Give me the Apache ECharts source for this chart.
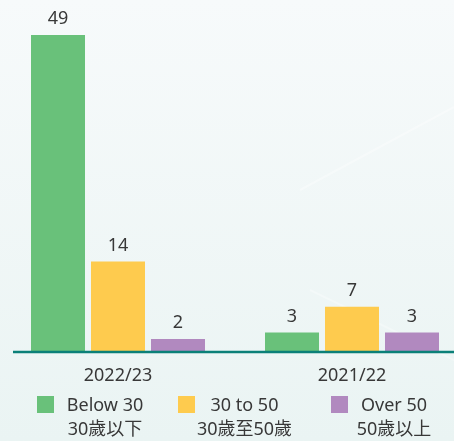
<!DOCTYPE html>
<html>
<head>
<meta charset="utf-8">
<script src="https://cdn.jsdelivr.net/npm/echarts@6/dist/echarts.min.js"></script>
<style>
  html, body { margin: 0; padding: 0; }
  #main { width: 454px; height: 441px; }
</style>
</head>
<body>
<div id="main"></div>
<script>
var categories = ['2022/23', '2021/22'];
var below30 = [49, 3];
var from30to50 = [14, 7];
var over50 = [2, 3];
var namesEn = ['Below 30', '30 to 50', 'Over 50'];
var namesZh = ['30歲以下', '30歲至50歲', '50歲以上'];
var colors = ['#69c17a', '#fecb4e', '#b189bf'];

var font = "'Noto Sans', 'Noto Sans CJK TC', sans-serif";
var textColor = '#383838';

function makeSeries(i, values) {
    return {
        name: namesEn[i],
        type: 'bar',
        data: values,
        barWidth: 54,
        barGap: '11.1%',
        itemStyle: { color: colors[i] },
        label: {
            show: true,
            position: 'top',
            distance: 7,
            color: textColor,
            fontSize: 18,
            fontFamily: font
        }
    };
}

// one legend per series so the gaps can follow the picture
function makeLegend(i, left, w) {
    return {
        data: [namesEn[i]],
        left: left,
        top: 396,
        padding: 0,
        itemWidth: 17,
        itemHeight: 17,
        icon: 'rect',
        selectedMode: false,
        formatter: function (name) {
            return '{a|' + name + '}\n{a|' + namesZh[i] + '}';
        },
        textStyle: {
            padding: [27, 0, 0, 0],
            rich: {
                a: {
                    width: w,
                    align: 'center',
                    lineHeight: 24,
                    fontSize: 18,
                    color: textColor,
                    fontFamily: font
                }
            }
        }
    };
}

var myChart = echarts.init(document.getElementById('main'));
var option = {
    backgroundColor: {
        type: 'linear', x: 0, y: 0, x2: 0, y2: 1,
        colorStops: [
            { offset: 0, color: '#f7fafb' },
            { offset: 1, color: '#eaf4f3' }
        ]
    },
    animation: false,
    grid: { left: 1, width: 468, top: 28.5, bottom: 89, outerBoundsMode: 'none' },
    xAxis: {
        type: 'category',
        data: categories,
        axisLine: { show: false },
        axisTick: { show: false },
        axisLabel: { margin: 15, color: textColor, fontSize: 18, fontFamily: font }
    },
    yAxis: {
        type: 'value',
        min: 0,
        max: 50,
        show: false
    },
    legend: [
        makeLegend(0, 37, 92),
        makeLegend(1, 178, 89),
        makeLegend(2, 331, 82)
    ],
    graphic: [
        {
            type: 'line', silent: true, z: -1,
            shape: { x1: 454, y1: 107, x2: 300, y2: 190 },
            style: { stroke: '#ffffff', lineWidth: 2, opacity: 0.35 }
        },
        {
            type: 'line', silent: true, z: -1,
            shape: { x1: 310, y1: 290, x2: 454, y2: 360 },
            style: { stroke: '#ffffff', lineWidth: 2, opacity: 0.3 }
        },
        {
            type: 'line', silent: true, z: 10,
            shape: { x1: 13, y1: 352, x2: 454, y2: 352 },
            style: { stroke: '#0b8078', lineWidth: 2.5 }
        }
    ],
    series: [
        makeSeries(0, below30),
        makeSeries(1, from30to50),
        makeSeries(2, over50)
    ]
};
myChart.setOption(option);
</script>
</body>
</html>
